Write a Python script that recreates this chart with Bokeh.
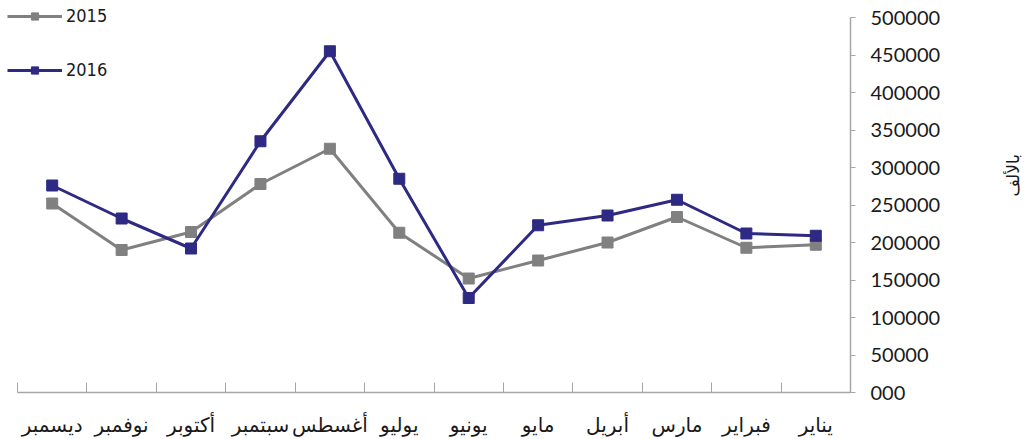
import math
from bokeh.plotting import figure
from bokeh.models import Range1d, FixedTicker, NumeralTickFormatter, Legend, LegendItem
from bokeh.embed import file_html
from bokeh.resources import INLINE

months = ["يناير", "فبراير", "مارس", "أبريل", "مايو", "يونيو",
          "يوليو", "أغسطس", "سبتمبر", "أكتوبر", "نوفمبر", "ديسمبر"]
values_2015 = [197000, 193000, 234000, 200000, 176000, 152000,
               213000, 325000, 278000, 214000, 190000, 252000]
values_2016 = [209000, 212000, 257000, 236000, 223000, 126000,
               285000, 455000, 335000, 192000, 232000, 276000]
y_ticks = list(range(0, 500001, 50000))
y_max = 500000
y_label = "بالألف"

x = list(range(len(months)))

GRAY = "#808080"
NAVY = "#2E2A83"
AXIS = "#A6A6A6"
NUM_FONT = "Lato"
AR_FONT = "DejaVu Sans"

# plotting area in pixels: data region is 833 x 375, with 17px of empty
# frame to its left and above, so that the legend can sit there
PAD = 17
DW, DH = 833, 375
n = len(months)
cat_px = DW / n
x_range = Range1d(n - 0.5 + PAD / cat_px, -0.5)
y_range = Range1d(0, y_max * (DH + PAD) / DH)

p = figure(frame_width=DW + PAD, frame_height=DH + PAD, output_backend="svg",
           toolbar_location=None, y_axis_location="right",
           x_range=x_range, y_range=y_range,
           min_border_left=0, min_border_top=0, min_border_bottom=0, min_border_right=0)
p.outline_line_color = None
p.grid.grid_line_color = None

l15 = p.line(x, values_2015, line_color=GRAY, line_width=3)
s15 = p.scatter(x, values_2015, marker="square", size=11, fill_color=GRAY, line_color=GRAY)
l16 = p.line(x, values_2016, line_color=NAVY, line_width=3)
s16 = p.scatter(x, values_2016, marker="square", size=11, fill_color=NAVY, line_color=NAVY)

# x axis
xa = p.xaxis[0]
xa.bounds = (-0.5, n - 0.5)
xa.ticker = FixedTicker(ticks=x, minor_ticks=[i - 0.5 for i in range(n + 1)])
xa.major_label_overrides = {i: m for i, m in zip(x, months)}
xa.major_tick_in = 0
xa.major_tick_out = 0
xa.minor_tick_in = 10
xa.minor_tick_out = 0
xa.minor_tick_line_color = AXIS
xa.axis_line_color = AXIS
xa.axis_line_width = 1.5
xa.major_label_text_font = AR_FONT
xa.major_label_text_font_size = "20px"
xa.major_label_text_color = "#1a1a1a"
xa.major_label_standoff = 20

# y axis
ya = p.yaxis[0]
ya.bounds = (0, y_max)
ya.ticker = FixedTicker(ticks=y_ticks)
ya.formatter = NumeralTickFormatter(format="0")
ya.major_label_overrides = {0: "000"}
ya.major_tick_in = 0
ya.major_tick_out = 5
ya.minor_tick_line_color = None
ya.axis_line_color = AXIS
ya.axis_line_width = 1.5
ya.major_tick_line_color = AXIS
ya.major_label_text_font = NUM_FONT
ya.major_label_text_font_size = "20px"
ya.major_label_text_color = "#1a1a1a"
ya.major_label_standoff = 15
ya.axis_label = y_label
ya.axis_label_orientation = math.pi / 2
ya.axis_label_text_font = AR_FONT
ya.axis_label_text_font_size = "17px"
ya.axis_label_text_font_style = "normal"
ya.axis_label_text_color = "#1a1a1a"
ya.axis_label_standoff = 70

legend = Legend(items=[LegendItem(label="2015", renderers=[l15, s15]),
                       LegendItem(label="2016", renderers=[l16, s16])],
                location=(7, 312), padding=0, margin=0, spacing=33,
                glyph_width=55, glyph_height=18, label_height=18,
                label_standoff=4, border_line_color=None,
                background_fill_alpha=0,
                label_text_font="'DejaVu Sans Condensed', 'Liberation Sans Narrow', sans-serif",
                label_text_font_size="18px", label_text_color="#1a1a1a")
p.add_layout(legend)

open("out.html", "w").write(file_html(p, INLINE))
